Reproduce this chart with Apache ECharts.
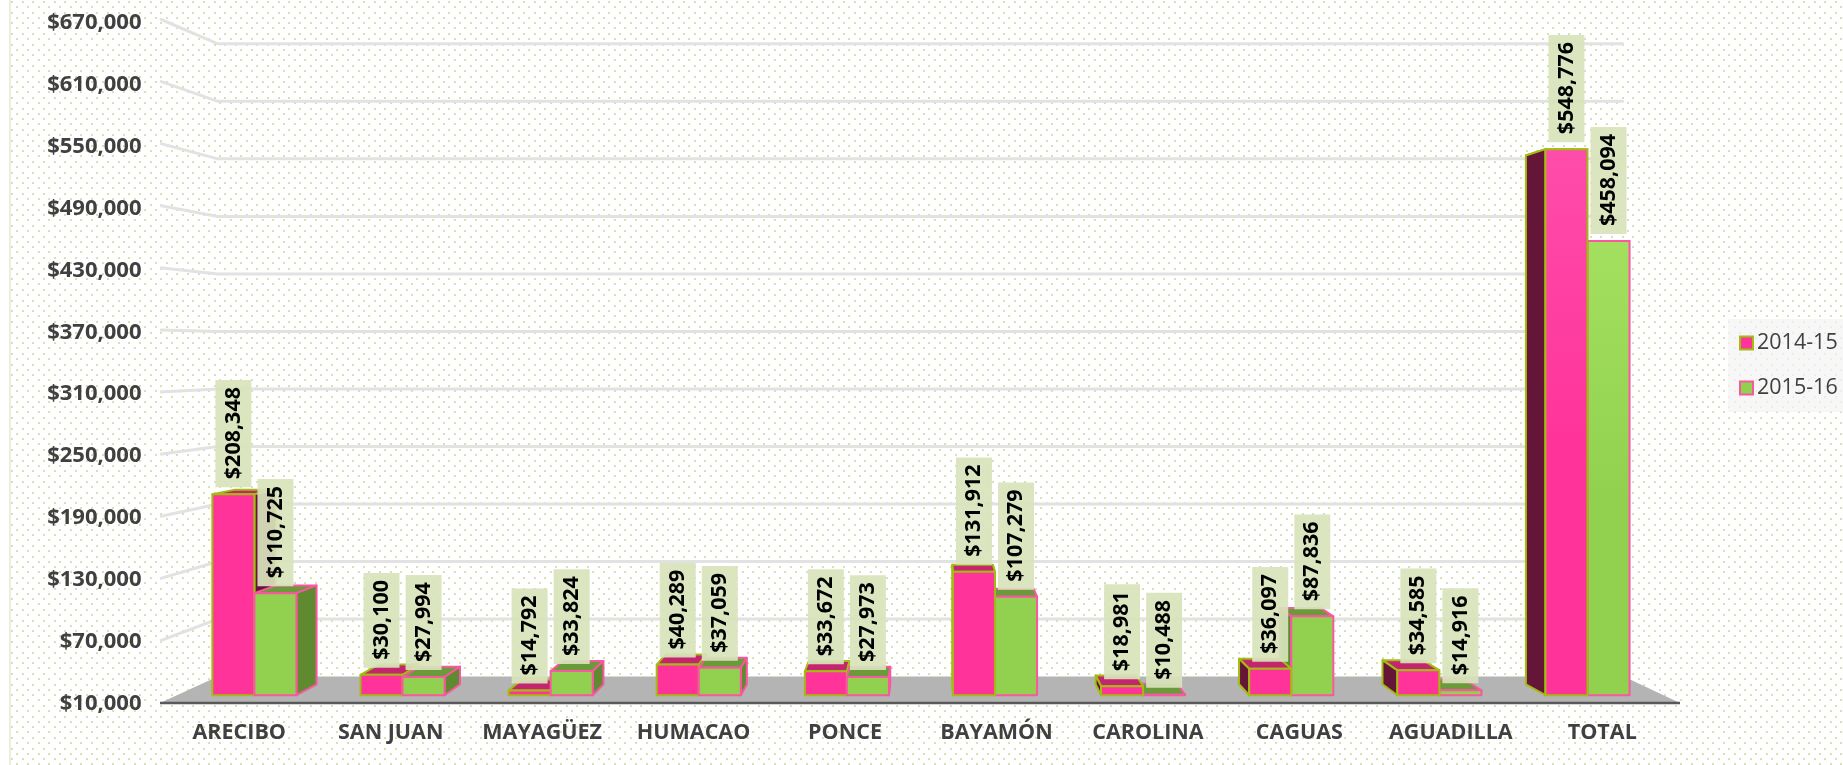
<!DOCTYPE html>
<html>
<head>
<meta charset="utf-8">
<script src="https://cdn.jsdelivr.net/npm/echarts@6/dist/echarts.min.js"></script>
<style>
html,body{margin:0;padding:0;background:#fff;width:1843px;height:765px;overflow:hidden}
#strip{position:absolute;left:9px;top:0;width:2px;height:765px;background:#ececdf}
#dots{position:absolute;left:11px;top:0;right:0;bottom:0;
background-image:url("data:image/svg+xml;utf8,<svg xmlns='http://www.w3.org/2000/svg' width='32' height='32' shape-rendering='crispEdges'><g fill='%23dbe0b4'><rect x='0' y='1' width='2' height='2'/><rect x='11' y='1' width='2' height='2'/><rect x='21' y='1' width='2' height='2'/><rect x='5' y='6' width='2' height='2'/><rect x='16' y='6' width='2' height='2'/><rect x='27' y='6' width='2' height='2'/><rect x='0' y='12' width='2' height='2'/><rect x='11' y='12' width='2' height='2'/><rect x='21' y='12' width='2' height='2'/><rect x='5' y='17' width='2' height='2'/><rect x='16' y='17' width='2' height='2'/><rect x='27' y='17' width='2' height='2'/><rect x='0' y='22' width='2' height='2'/><rect x='11' y='22' width='2' height='2'/><rect x='21' y='22' width='2' height='2'/><rect x='5' y='27' width='2' height='2'/><rect x='16' y='27' width='2' height='2'/><rect x='27' y='27' width='2' height='2'/></g></svg>");
background-size:32px 32px}
#main{position:absolute;left:0;top:0;width:1843px;height:765px}
</style>
</head>
<body>
<div id="strip"></div><div id="dots"></div>
<div id="main"></div>
<script>
const categories = ['ARECIBO','SAN JUAN','MAYAGÜEZ','HUMACAO','PONCE','BAYAMÓN','CAROLINA','CAGUAS','AGUADILLA','TOTAL'];
const values2014 = [208348,30100,14792,40289,33672,131912,18981,36097,34585,548776];
const values2015 = [110725,27994,33824,37059,27973,107279,10488,87836,14916,458094];
const seriesNames = ['2014-15','2015-16'];
const axisMin = 10000, axisMax = 670000, axisStep = 60000;
const tickValues = [70000,130000,190000,250000,310000,370000,430000,490000,550000,610000,670000];

// perspective view: everything is projected from the front plane toward one vanishing point
const VX = 930, VY = 350, WALL = 0.075, BAR_FRONT = 0.022, BAR_BACK = 0.053, BAR_SHARE = 0.284;
const project = (p, d) => [p[0] + (VX - p[0]) * d, p[1] + (VY - p[1]) * d];
const money = v => '$' + v.toLocaleString('en-US');
const FONT = '"Open Sans","Noto Sans",sans-serif';

const looks = [
  {front: {type:'linear',global:true,x:0,y:150,x2:0,y2:450,colorStops:[{offset:0,color:'#ff4cab'},{offset:1,color:'#ff3399'}]},
   top:'#c4256f', side:'#651538', edge:'#a2bc10'},
  {front: {type:'linear',global:true,x:0,y:240,x2:0,y2:500,colorStops:[{offset:0,color:'#a3e060'},{offset:1,color:'#92d050'}]},
   top:'#6b9a3a', side:'#5f8a30', edge:'#f9579f'}
];

function cuboid(which) {
  const look = looks[which];
  return function (params, api) {
    const cat = api.value(0), v = api.value(1);
    const t = api.coord([cat, v]), b = api.coord([cat, axisMin]);
    const w = api.size([1, 0])[0] * BAR_SHARE;
    const x0 = t[0] + (which === 0 ? -w : 0), x1 = x0 + w;
    const leftCat = t[0] < VX;
    const z = leftCat ? (which === 0 ? 1 : 5) : (which === 0 ? 5 : 1);
    const fTL = project([x0, t[1]], BAR_FRONT), fTR = project([x1, t[1]], BAR_FRONT);
    const fBL = project([x0, b[1]], BAR_FRONT), fBR = project([x1, b[1]], BAR_FRONT);
    const bTL = project([x0, t[1]], BAR_BACK), bTR = project([x1, t[1]], BAR_BACK);
    const bBL = project([x0, b[1]], BAR_BACK), bBR = project([x1, b[1]], BAR_BACK);
    const stroke = {stroke: look.edge, lineWidth: 2, lineJoin: 'round'};
    const poly = (pts, fill, z2) => ({type:'polygon', z2, shape:{points:pts}, style:Object.assign({fill}, stroke)});
    const kids = [poly([fTL, fTR, bTR, bTL], look.top, z)];
    if (x1 < VX) kids.push(poly([fTR, bTR, bBR, fBR], look.side, z + 1));
    if (x0 > VX) kids.push(poly([fTL, bTL, bBL, fBL], look.side, z + 1));
    kids.push(poly([fTL, fTR, fBR, fBL], look.front, z + 2));
    kids.push({
      type:'text', z2: 50 + which, rotation: Math.PI / 2,
      x: (fTL[0] + fTR[0]) / 2, y: fTL[1] - 7,
      style:{text: money(v), align:'left', verticalAlign:'middle', fill:'#000',
             font:'bold 21.5px ' + FONT, backgroundColor:'rgba(216,228,188,0.92)', padding:[7,7,7,8]}
    });
    return {type:'group', children:kids};
  };
}

function wallGrid(params, api) {
  const v = api.value(0);
  const p = api.coord([0, v]);
  const r = params.coordSys;
  const left = [r.x - 3.5, p[1]], right = [r.x + r.width + 2, p[1]];
  const a = project(left, WALL), c = project(right, WALL);
  return {type:'polyline', z2:0, shape:{points:[left, a, c]},
          style:{fill:'none', stroke:'#e2e2e2', lineWidth:3}};
}

function floor(params, api) {
  const p = api.coord([0, axisMin]);
  const r = params.coordSys;
  const left = [r.x - 3.5, p[1]], right = [r.x + r.width + 2, p[1]];
  return {type:'group', children:[
    {type:'polygon', z2:0, shape:{points:[left, right, project(right, WALL), project(left, WALL)]}, style:{fill:'#b4b4b4'}},
    {type:'line', z2:0, shape:{x1:left[0], y1:left[1], x2:right[0], y2:right[1]}, style:{stroke:'#595959', lineWidth:2.6}}
  ]};
}

const chart = echarts.init(document.getElementById('main'), null, {renderer:'canvas'});
chart.setOption({
  animation:false,
  backgroundColor:'transparent',
  textStyle:{fontFamily:FONT},
  grid:[
    {left:163.5, width:1514.5, top:19, bottom:62},
    {left:163.5, width:1514.5, top:23, bottom:61.5}
  ],
  xAxis:[
    {type:'category', data:categories, gridIndex:0, axisLine:{show:false}, axisTick:{show:false},
      axisLabel:{interval:0, color:'#404040', fontWeight:'bold', fontSize:21.5, margin:19, fontFamily:FONT}},
    {type:'category', data:categories, gridIndex:1, show:false}
  ],
  yAxis:[
    {type:'value', gridIndex:0, min:axisMin, max:axisMax, interval:axisStep, show:false, splitLine:{show:false}},
    {type:'value', gridIndex:1, min:axisMin, max:axisMax, interval:axisStep, splitLine:{show:false}, axisLine:{show:false}, axisTick:{show:false},
      axisLabel:{color:'#404040', fontWeight:'bold', fontSize:22, margin:22, fontFamily:FONT,
        formatter:v => money(v)}}
  ],
  legend:{data:[
      {name:seriesNames[0], icon:'rect', itemStyle:{color:'#ff3399', borderColor:'#a2bc10', borderWidth:2}},
      {name:seriesNames[1], icon:'rect', itemStyle:{color:'#92d050', borderColor:'#f9579f', borderWidth:2}}],
    orient:'vertical', left:1728, top:319, itemWidth:13, itemHeight:13, itemGap:23, padding:[13,6,13,11],
    backgroundColor:'rgba(244,244,244,0.7)', selectedMode:false,
    textStyle:{color:'#404040', fontSize:21.5, fontFamily:FONT, padding:[0,0,0,-1]}},
  series:[
    {type:'custom', name:'wall', silent:true, z:1, clip:false, renderItem:wallGrid, encode:{y:0}, data:tickValues.map(v=>[v])},
    {type:'custom', name:'floor', silent:true, z:1, clip:false, renderItem:floor, data:[[axisMin]]},
    {type:'custom', name:seriesNames[0], z:2, clip:false, renderItem:cuboid(0), itemStyle:{color:'#ff3399'},
      encode:{x:0,y:1}, data:categories.map((c,i)=>[c, values2014[i]])},
    {type:'custom', name:seriesNames[1], z:2, clip:false, renderItem:cuboid(1), itemStyle:{color:'#92d050'},
      encode:{x:0,y:1}, data:categories.map((c,i)=>[c, values2015[i]])}
  ]
});
</script>
</body>
</html>
